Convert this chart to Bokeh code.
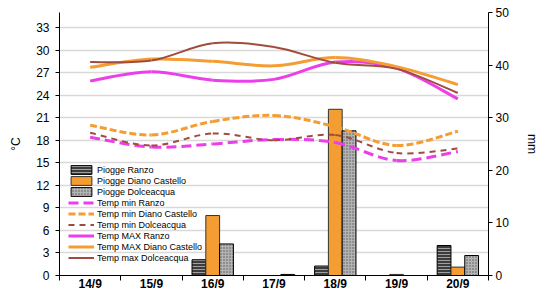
from bokeh.plotting import figure
from bokeh.models import (Range1d, LinearAxis, FixedTicker, ColumnDataSource, Legend, LegendItem)
from bokeh.transform import dodge
from bokeh.embed import file_html
from bokeh.resources import INLINE

# ---- data ----
days = ["14/9", "15/9", "16/9", "17/9", "18/9", "19/9", "20/9"]
rain_ranzo = [0, 0, 3.0, 0, 1.8, 0, 5.7]
rain_diano = [0, 0, 11.4, 0, 31.6, 0.2, 1.6]
rain_dolce = [0, 0, 6.0, 0.2, 27.5, 0, 3.8]

tmin_ranzo = [18.4, 17.1, 17.5, 18.1, 17.7, 15.3, 16.5]
tmin_diano = [20.0, 18.7, 20.5, 21.3, 19.8, 17.3, 19.2]
tmin_dolce = [19.0, 17.3, 18.9, 18.0, 18.7, 16.3, 16.9]
tmax_ranzo = [25.9, 27.1, 26.0, 26.1, 28.4, 27.6, 23.5]
tmax_diano = [27.7, 28.8, 28.5, 27.9, 29.0, 27.8, 25.4]
tmax_dolce = [28.4, 28.6, 30.9, 30.4, 28.3, 27.5, 24.3]

temp_ticks = list(range(0, 34, 3))
mm_ticks = [0, 10, 20, 30, 40, 50]

FONT = "Liberation Sans"
ORANGE = "#F39D32"
MAGENTA = "#EC3FEA"
BROWN = "#A04B3C"

xc = [i + 0.5 for i in range(len(days))]

p = figure(width=541, height=293, output_backend="svg", toolbar_location=None,
           x_range=Range1d(0, len(days)), y_range=Range1d(0, 35),
           min_border_left=59, min_border_right=46, min_border_top=12, min_border_bottom=17)
p.outline_line_color = None
p.background_fill_color = "white"
p.extra_y_ranges = {"mm": Range1d(0, 50)}

# axes
xa = p.xaxis[0]
xa.ticker = FixedTicker(ticks=xc, minor_ticks=list(range(len(days) + 1)))
xa.major_label_overrides = {x: d for x, d in zip(xc, days)}
xa.major_tick_line_color = None
xa.major_tick_out = 0
xa.major_tick_in = 0
xa.minor_tick_in = 0
xa.minor_tick_out = 5
xa.minor_tick_line_color = "black"
xa.axis_line_color = "black"
xa.major_label_text_font = FONT
xa.major_label_text_font_size = "12px"
xa.major_label_text_font_style = "bold"
xa.major_label_text_color = "black"
xa.major_label_text_line_height = 1.0
xa.major_label_standoff = -4

ya = p.yaxis[0]
ya.ticker = FixedTicker(ticks=temp_ticks)
ya.minor_tick_line_color = None
ya.major_tick_in = 0
ya.major_tick_out = 4
ya.axis_line_color = "black"
ya.major_tick_line_color = "black"
ya.major_label_text_font = FONT
ya.major_label_text_font_size = "12px"
ya.major_label_text_color = "black"
ya.major_label_standoff = 6
ya.axis_label = "°C"
ya.axis_label_text_font = FONT
ya.axis_label_text_font_size = "12px"
ya.axis_label_text_font_style = "normal"
ya.axis_label_text_color = "black"
ya.axis_label_standoff = 10

ra = LinearAxis(y_range_name="mm", ticker=FixedTicker(ticks=mm_ticks))
ra.minor_tick_line_color = None
ra.major_tick_in = 0
ra.major_tick_out = 4
ra.axis_line_color = "black"
ra.major_tick_line_color = "black"
ra.major_label_text_font = FONT
ra.major_label_text_font_size = "12px"
ra.major_label_text_color = "black"
ra.major_label_standoff = 3
ra.axis_label = "mm"
ra.axis_label_text_font = FONT
ra.axis_label_text_font_size = "12px"
ra.axis_label_text_font_style = "normal"
ra.axis_label_text_color = "black"
ra.axis_label_standoff = 13
p.add_layout(ra, "right")

p.xgrid.grid_line_color = None
p.ygrid.ticker = FixedTicker(ticks=temp_ticks[1:])
p.ygrid.grid_line_color = "#d9d9d9"
p.ygrid.grid_line_width = 1.5

# bars
src = ColumnDataSource(dict(x=xc, ranzo=rain_ranzo, diano=rain_diano, dolce=rain_dolce))
bw = 0.225
b1 = p.vbar(x=dodge("x", -bw, range=p.x_range), top="ranzo", width=bw, source=src, y_range_name="mm",
            fill_color="#3c3c3c", line_color="black", line_width=1,
            hatch_pattern="horizontal_line", hatch_color="#a0a0a0", hatch_scale=3, hatch_weight=1)
b2 = p.vbar(x=dodge("x", 0, range=p.x_range), top="diano", width=bw, source=src, y_range_name="mm",
            fill_color=ORANGE, line_color="#333333", line_width=1)
b3 = p.vbar(x=dodge("x", bw, range=p.x_range), top="dolce", width=bw, source=src, y_range_name="mm",
            fill_color="#b4b4b4", line_color="black", line_width=1,
            hatch_pattern="dot", hatch_color="#555555", hatch_scale=3, hatch_weight=1)


def smooth(xs, ys):
    n = len(xs)
    d = dict(x0=[], y0=[], x1=[], y1=[], cx0=[], cy0=[], cx1=[], cy1=[])
    for i in range(n - 1):
        pm = max(i - 1, 0)
        pn = min(i + 2, n - 1)
        d["x0"].append(xs[i]); d["y0"].append(ys[i])
        d["x1"].append(xs[i + 1]); d["y1"].append(ys[i + 1])
        d["cx0"].append(xs[i] + (xs[i + 1] - xs[pm]) / 6)
        d["cy0"].append(ys[i] + (ys[i + 1] - ys[pm]) / 6)
        d["cx1"].append(xs[i + 1] - (xs[pn] - xs[i]) / 6)
        d["cy1"].append(ys[i + 1] - (ys[pn] - ys[i]) / 6)
    return ColumnDataSource(d)


def curve(ys, color, width, dash):
    return p.bezier(x0="x0", y0="y0", x1="x1", y1="y1", cx0="cx0", cy0="cy0", cx1="cx1", cy1="cy1",
                    source=smooth(xc, ys), line_color=color, line_width=width, line_dash=dash)


l1 = curve(tmin_ranzo, MAGENTA, 3, "10 5")
l2 = curve(tmin_diano, ORANGE, 3, "7 3")
l3 = curve(tmin_dolce, BROWN, 2, "6 5")
l4 = curve(tmax_ranzo, MAGENTA, 3, "solid")
l5 = curve(tmax_diano, ORANGE, 3, "solid")
l6 = curve(tmax_dolce, BROWN, 2, "solid")

legend = Legend(items=[
    LegendItem(label="Piogge Ranzo", renderers=[b1]),
    LegendItem(label="Piogge Diano Castello", renderers=[b2]),
    LegendItem(label="Piogge Dolceacqua", renderers=[b3]),
    LegendItem(label="Temp min Ranzo", renderers=[l1]),
    LegendItem(label="Temp min Diano Castello", renderers=[l2]),
    LegendItem(label="Temp min Dolceacqua", renderers=[l3]),
    LegendItem(label="Temp MAX Ranzo", renderers=[l4]),
    LegendItem(label="Temp MAX Diano Castello", renderers=[l5]),
    LegendItem(label="Temp max Dolceacqua", renderers=[l6]),
], location=(9, 12))
legend.padding = 0
legend.margin = 0
legend.spacing = 0
legend.glyph_width = 26
legend.glyph_height = 11
legend.label_height = 11
legend.label_standoff = 3
legend.label_text_font = FONT
legend.label_text_font_size = "9px"
legend.label_text_color = "black"
legend.background_fill_alpha = 0
legend.border_line_color = None
p.add_layout(legend, "center")

open("out.html", "w").write(file_html(p, INLINE))
